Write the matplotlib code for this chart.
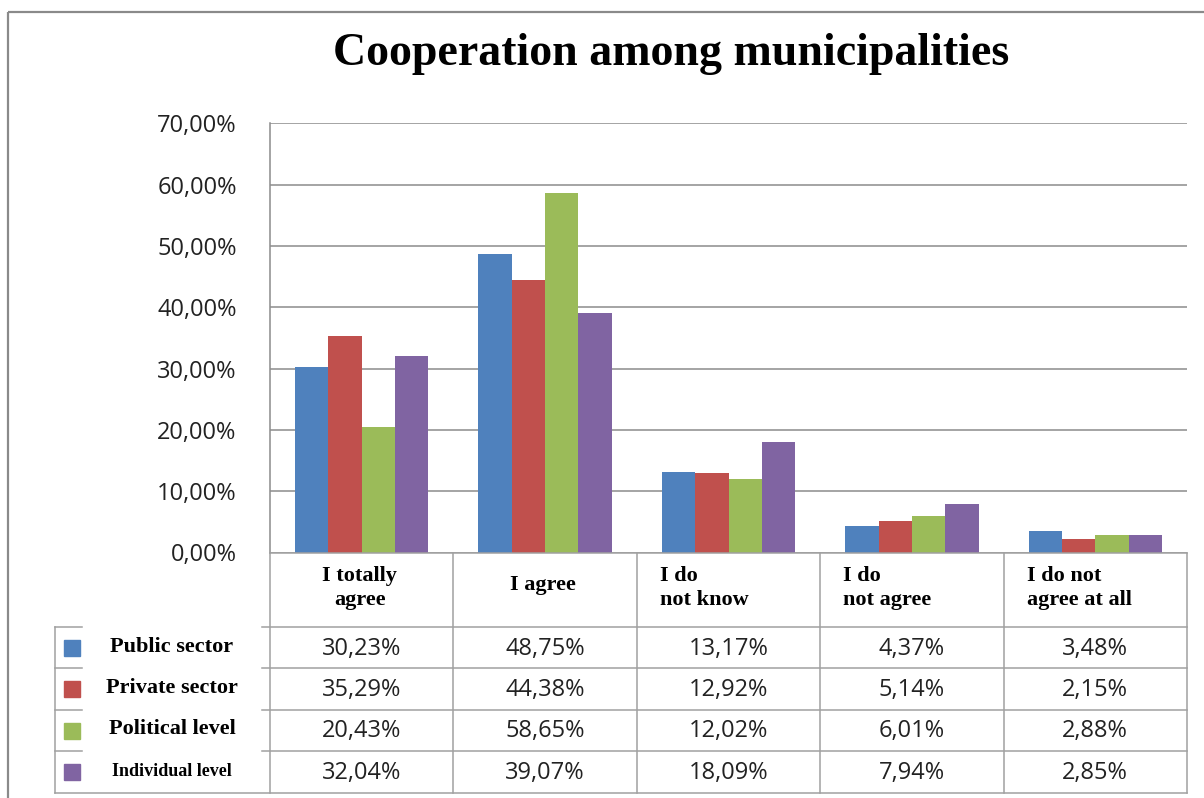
import matplotlib
matplotlib.use("Agg")
import matplotlib.pyplot as plt
from matplotlib.patches import Rectangle

# ── data ─────────────────────────────────────────────────────────────────────
categories = ["I totally\nagree", "I agree", "I do\nnot know", "I do\nnot agree", "I do not\nagree at all"]
series = ["Public sector", "Private sector", "Political level", "Individual level"]
public_sector = [30.23, 48.75, 13.17, 4.37, 3.48]
private_sector = [35.29, 44.38, 12.92, 5.14, 2.15]
political_level = [20.43, 58.65, 12.02, 6.01, 2.88]
individual_level = [32.04, 39.07, 18.09, 7.94, 2.85]
yticks = [0, 10, 20, 30, 40, 50, 60, 70]

values = [public_sector, private_sector, political_level, individual_level]
colors = ["#4F81BD", "#C0504D", "#9BBB59", "#8064A2"]

W, H = 1204, 798
fig = plt.figure(figsize=(W / 100, H / 100), dpi=100)

# plot area in pixels: left 270, right 1187, top 123, bottom 553
L, R, T, B = 270, 1187, 123.3, 552.5
ax = fig.add_axes([L / W, 1 - B / H, (R - L) / W, (B - T) / H])

n = len(categories)
bw = 1 / 5.5
for i, (vals, c) in enumerate(zip(values, colors)):
    xs = [k + (i - 1.5) * bw for k in range(n)]
    ax.bar(xs, vals, width=bw, color=c, zorder=3, linewidth=0)

ax.set_xlim(-0.5, n - 0.5)
ax.set_ylim(0, 70)
ax.set_yticks(yticks)
ax.set_yticklabels([f"{v:.2f}%".replace(".", ",") for v in yticks],
                   fontfamily="Open Sans", fontsize=17, color="#222222")
ax.set_xticks([])
ax.tick_params(axis="y", length=0, pad=24)
ax.grid(axis="y", color="#8c8c8c", linewidth=1.1, zorder=0)
for s in ["top", "right", "bottom"]:
    ax.spines[s].set_visible(False)
ax.spines["left"].set_color("#8c8c8c")
ax.spines["left"].set_linewidth(1.1)

# ── overlay for title, table and frame (pixel coords) ───────────────────────
ov = fig.add_axes([0, 0, 1, 1])
ov.set_xlim(0, W)
ov.set_ylim(H, 0)
ov.axis("off")

ov.add_patch(Rectangle((8, 12), W + 20, H + 20, fill=False, edgecolor="#8a8a8a", linewidth=1.6))

ov.text(671, 54, "Cooperation among municipalities", ha="center", va="center",
        fontfamily="Liberation Serif", fontweight="bold", fontsize=33)

gc = "#a0a0a0"
col_w = (R - L) / n
col_x = [L + k * col_w for k in range(n + 1)]
row_y = [552.5, 627, 668, 710, 751, 793]

# horizontal table lines
ov.plot([L, R], [row_y[0], row_y[0]], color=gc, lw=1.1)
for y in row_y[1:5]:
    ov.plot([55, 82], [y, y], color=gc, lw=1.1)
    ov.plot([262, R], [y, y], color=gc, lw=1.1)
ov.plot([55, R], [row_y[5], row_y[5]], color=gc, lw=1.1)
# vertical table lines
for x in col_x:
    ov.plot([x, x], [row_y[0], row_y[5]], color=gc, lw=1.1)
ov.plot([55, 55], [row_y[1], row_y[5]], color=gc, lw=1.1)

# header cells
hfont = dict(fontfamily="Liberation Serif", fontweight="bold", fontsize=16, va="center")
for k, lab in enumerate(categories):
    cx = (col_x[k] + col_x[k + 1]) / 2
    if k < 2:
        y = 588 if k == 0 else 585
        ov.text(cx - 2, y, lab, ha="center", multialignment="center", linespacing=1.3, **hfont)
    else:
        ov.text(col_x[k] + 23, 588, lab, ha="left", linespacing=1.3, **hfont)

# data rows + legend keys
for r, (name, vals, c) in enumerate(zip(series, values, colors)):
    yc = (row_y[r + 1] + row_y[r + 2]) / 2
    ov.add_patch(Rectangle((64, yc - 8), 16, 16, color=c))
    fs = 13 if r == 3 else 16
    ov.text(172, yc - 1, name, ha="center", va="center", fontfamily="Liberation Serif",
            fontweight="bold", fontsize=fs)
    for k, v in enumerate(vals):
        cx = (col_x[k] + col_x[k + 1]) / 2
        ov.text(cx, yc + 1, f"{v:.2f}%".replace(".", ","), ha="center", va="center",
                fontfamily="Open Sans", fontsize=17, color="#222222")

fig.savefig("out.png", dpi=100)
